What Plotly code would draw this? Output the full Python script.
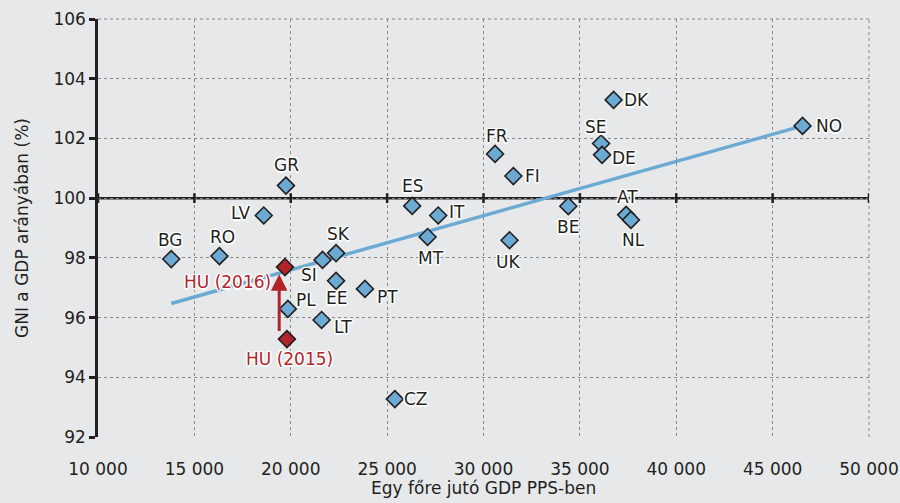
import plotly.graph_objects as go

# ---- data ----
countries = ["BG", "RO", "LV", "GR", "PL", "SI", "SK", "EE", "LT", "PT", "CZ", "ES", "MT", "IT",
             "UK", "FR", "FI", "BE", "SE", "DE", "DK", "AT", "NL", "NO"]
gdp_pps = [13800, 16300, 18600, 19750, 19850, 21650, 22350, 22350, 21600, 23850, 25400, 26300,
           27100, 27650, 31350, 30600, 31550, 34400, 36100, 36150, 36750, 37400, 37650, 46550]
gni_ratio = [97.96, 98.06, 99.42, 100.42, 96.29, 97.93, 98.16, 97.23, 95.92, 96.96, 93.27, 99.74,
             98.70, 99.42, 98.59, 101.48, 100.74, 99.73, 101.83, 101.45, 103.29, 99.44, 99.27, 102.42]

hu_labels = ["HU (2016)", "HU (2015)"]
hu_gdp_pps = [19700, 19800]
hu_gni_ratio = [97.69, 95.28]

trend_x = [13800, 46550]
trend_y = [96.47, 102.42]

x_ticks = [10000, 15000, 20000, 25000, 30000, 35000, 40000, 45000, 50000]
x_tick_text = ["10 000", "15 000", "20 000", "25 000", "30 000", "35 000", "40 000", "45 000", "50 000"]
y_ticks = [92, 94, 96, 98, 100, 102, 104, 106]

x_title = "Egy főre jutó GDP PPS-ben"
y_title = "GNI a GDP arányában (%)"

# label offsets (pixels) relative to each marker
label_dx = [-1, 3, -23, 1, 18, -14, 2, 0, 21, 23, 21, 1, 3, 19, -2, 2, 19, 0, -5, 22, 23, 1, 3, 26]
label_dy = [-19, -19, -2, -21, -9, 15, -19, 17, 7, 8, 0, -20, 21, -3, 22, -18, 0, 21, -17, 3, 0, -18, 20, 0]
hu_dx = [-57, 3]
hu_dy = [15, 20]

BG = "#E7E8EA"
BLUE = "#6AAAD3"
RED = "#B3232A"
DARK = "#231F20"
GRID = "#8A8A8A"
FONT = "DejaVu Sans"
FS = 17
HALO = ("1.5px 0px 1px white, -1.5px 0px 1px white, 0px 1.5px 1px white, 0px -1.5px 1px white, "
        "1px 1px 1px white, -1px -1px 1px white, 1px -1px 1px white, -1px 1px 1px white")

fig = go.Figure()

# trend line
fig.add_trace(go.Scatter(x=trend_x, y=trend_y, mode="lines",
                         line=dict(color=BLUE, width=3.5), hoverinfo="skip"))

# x tick marks on the y=100 line
fig.add_trace(go.Scatter(x=x_ticks, y=[100] * len(x_ticks), mode="markers",
                         marker=dict(symbol="line-ns", size=7, line=dict(color=DARK, width=2.5)),
                         hoverinfo="skip"))

# country markers
fig.add_trace(go.Scatter(x=gdp_pps, y=gni_ratio, mode="markers",
                         marker=dict(symbol="diamond", size=13, color=BLUE,
                                     line=dict(color=DARK, width=1.6)),
                         text=countries, hoverinfo="text"))

# HU markers
fig.add_trace(go.Scatter(x=hu_gdp_pps, y=hu_gni_ratio, mode="markers",
                         marker=dict(symbol="diamond", size=13, color=RED,
                                     line=dict(color=DARK, width=1.6)),
                         text=hu_labels, hoverinfo="text"))

annotations = []
for c, x, y, dx, dy in zip(countries, gdp_pps, gni_ratio, label_dx, label_dy):
    annotations.append(dict(x=x, y=y, text=c, showarrow=False, xshift=dx, yshift=-dy,
                            font=dict(family=FONT, size=FS, color=DARK, shadow=HALO)))
for c, x, y, dx, dy in zip(hu_labels, hu_gdp_pps, hu_gni_ratio, hu_dx, hu_dy):
    annotations.append(dict(x=x, y=y, text=c, showarrow=False, xshift=dx, yshift=-dy,
                            font=dict(family=FONT, size=FS, color=RED, shadow=HALO)))

# arrow from HU 2015 to HU 2016
annotations.append(dict(x=19400, y=97.45, ax=19400, ay=95.5, axref="x", ayref="y",
                        xref="x", yref="y", text="", showarrow=True,
                        arrowhead=2, arrowsize=1.1, arrowwidth=3, arrowcolor=RED))

# axis titles
annotations.append(dict(xref="paper", yref="paper", x=0.5, y=-0.122, xanchor="center",
                        yanchor="middle", text=x_title, showarrow=False,
                        font=dict(family=FONT, size=FS, color=DARK)))
annotations.append(dict(xref="paper", yref="paper", x=-0.0986, y=0.5, xanchor="center",
                        yanchor="middle", text=y_title, showarrow=False, textangle=-90,
                        font=dict(family=FONT, size=FS, color=DARK)))

fig.update_layout(
    width=900, height=503,
    margin=dict(l=98, r=31, t=19, b=66),
    paper_bgcolor=BG, plot_bgcolor=BG,
    showlegend=False,
    font=dict(family=FONT, size=FS, color=DARK),
    annotations=annotations,
    shapes=[
        dict(type="line", xref="paper", yref="y", x0=0, x1=1, y0=100, y1=100,
             line=dict(color=DARK, width=2.5), layer="below"),
        dict(type="line", xref="paper", yref="paper", x0=1, x1=1, y0=0, y1=1,
             line=dict(color=GRID, width=1, dash="dot"), layer="below"),
        dict(type="line", xref="paper", yref="paper", x0=0, x1=1, y0=1, y1=1,
             line=dict(color=GRID, width=1, dash="dot"), layer="below"),
    ],
)

fig.update_xaxes(range=[10000, 50000], tickvals=x_ticks, ticktext=x_tick_text,
                 showgrid=True, gridcolor=GRID, griddash="dot", gridwidth=1,
                 zeroline=False, showline=False, ticks="", automargin=False,
                 ticklabelstandoff=20, ticklabeloverflow="allow",
                 tickfont=dict(family=FONT, size=FS, color=DARK))

fig.update_yaxes(range=[92, 106], tickvals=y_ticks,
                 showgrid=True, gridcolor=GRID, griddash="dot", gridwidth=1,
                 zeroline=False, showline=True, linecolor=DARK, linewidth=2.5,
                 ticks="outside", ticklen=6, tickwidth=2.5, tickcolor=DARK, automargin=False,
                 ticklabeloverflow="allow",
                 tickfont=dict(family=FONT, size=FS, color=DARK))

# remove the page's default body margin so the 900x503 figure fills the window exactly
fig.write_html("out.html", config={"displayModeBar": False},
               post_script="document.body.style.margin='0';document.body.style.overflow='hidden';")
